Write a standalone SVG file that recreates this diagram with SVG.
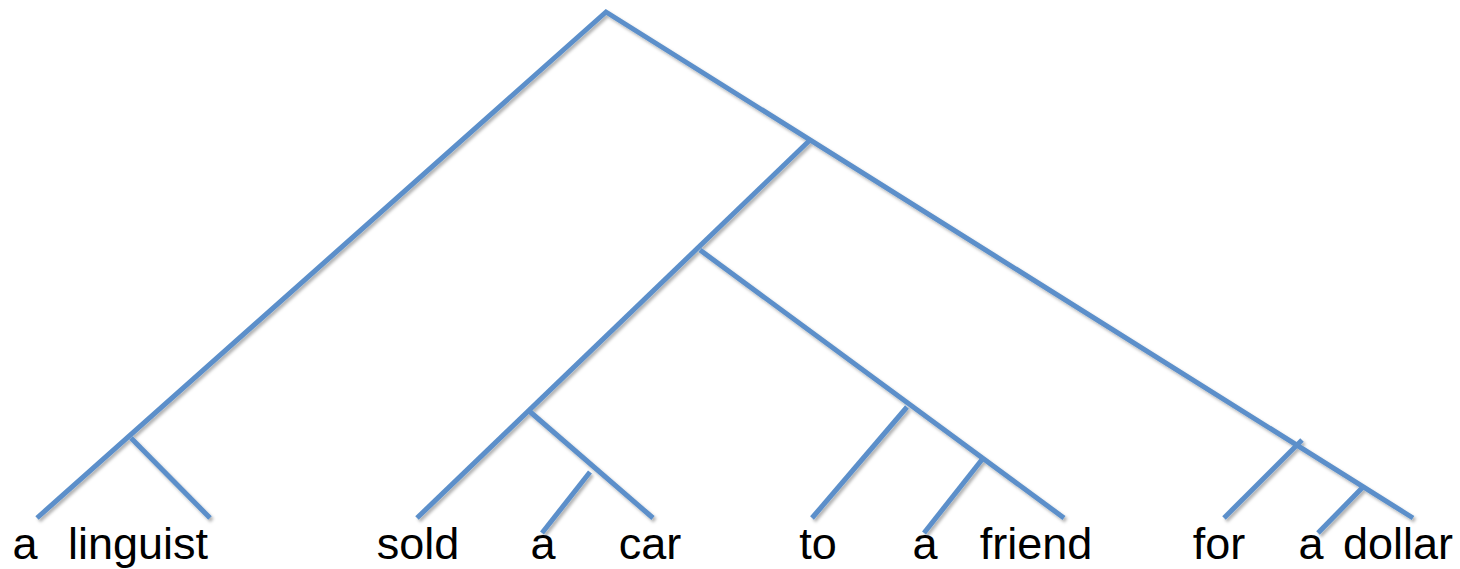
<svg xmlns="http://www.w3.org/2000/svg" width="1460" height="569" viewBox="0 0 1460 569">
<defs>
<style>
.e{stroke:#5b8fca;stroke-width:5;fill:none;stroke-linecap:butt}
.w{font-family:"Liberation Sans",Arial,sans-serif;font-size:45px;fill:#000;text-anchor:middle}
</style>
<filter id="sh" x="-5%" y="-5%" width="110%" height="110%">
<feDropShadow dx="2" dy="2.5" stdDeviation="1.5" flood-color="#000" flood-opacity="0.3"/>
</filter>
</defs>
<g id="connectors" filter="url(#sh)">
<polyline class="e" points="37,518 606,12 1413,518"/>
<line class="e" x1="131" y1="438" x2="210" y2="518"/>
<line class="e" x1="810" y1="140" x2="417" y2="518"/>
<line class="e" x1="700" y1="250" x2="1064" y2="518"/>
<line class="e" x1="907" y1="407" x2="812" y2="518"/>
<line class="e" x1="984" y1="457" x2="924" y2="533"/>
<line class="e" x1="528" y1="410" x2="653" y2="518"/>
<line class="e" x1="590" y1="472" x2="542" y2="533"/>
<line class="e" x1="1302" y1="440" x2="1224" y2="518"/>
<line class="e" x1="1363" y1="487" x2="1318" y2="533"/>
</g>
<g id="n-a1"><text class="w" x="25" y="559">a</text></g>
<g id="n-linguist"><text class="w" x="138" y="559">linguist</text></g>
<g id="n-sold"><text class="w" x="418" y="559">sold</text></g>
<g id="n-a2"><text class="w" x="543" y="559">a</text></g>
<g id="n-car"><text class="w" x="650" y="559">car</text></g>
<g id="n-to"><text class="w" x="818" y="559">to</text></g>
<g id="n-a3"><text class="w" x="925" y="559">a</text></g>
<g id="n-friend"><text class="w" x="1036" y="559">friend</text></g>
<g id="n-for"><text class="w" x="1219" y="559">for</text></g>
<g id="n-a4"><text class="w" x="1311" y="559">a</text></g>
<g id="n-dollar"><text class="w" x="1398" y="559">dollar</text></g>
</svg>
